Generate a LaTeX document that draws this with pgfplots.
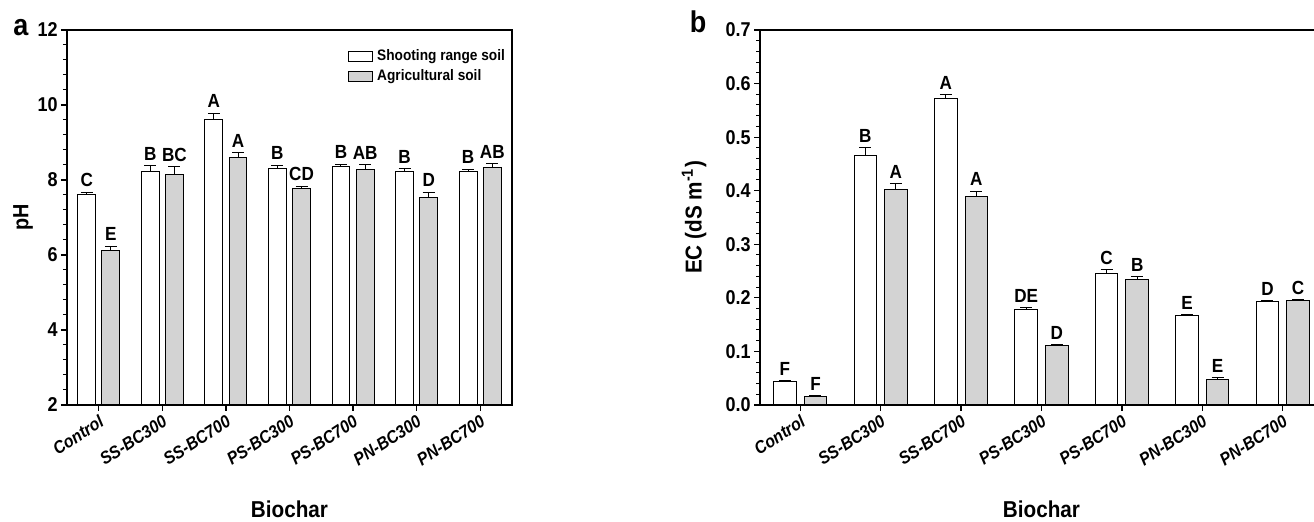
\documentclass[border=0pt]{standalone}
\usepackage{pgfplots}
\pgfplotsset{compat=1.18}
\usepackage{pgfplotstable}
\usepackage{fontspec}
\setmainfont{Liberation Sans}[FakeStretch=0.9]

\definecolor{barg}{RGB}{211,211,211}

\pgfplotstableread{
x w we wl g ge gl
0 7.62 0.05 C 6.11 0.12 E
1 8.23 0.15 B 8.14 0.21 BC
2 9.62 0.16 A 8.60 0.13 A
3 8.31 0.08 B 7.76 0.07 CD
4 8.35 0.07 B 8.28 0.12 AB
5 8.23 0.07 B 7.53 0.14 D
6 8.23 0.06 B 8.33 0.10 AB
}\pha

\pgfplotstableread{
x w we wl g ge gl
0 0.0434 0.002 F 0.0162 0.001 F
1 0.466 0.014 B 0.402 0.011 A
2 0.572 0.007 A 0.390 0.009 A
3 0.1775 0.004 DE 0.111 0.002 D
4 0.246 0.006 C 0.234 0.006 B
5 0.167 0.002 E 0.047 0.004 E
6 0.193 0.002 D 0.1955 0.001 C
}\phb

\pgfplotsset{
  mybase/.style={
    scale only axis, height=187.5pt,
    xmin=-0.5, xmax=6.5,
    xtick={0,1,2,3,4,5,6},
    xticklabels={Control,SS-BC300,SS-BC700,PS-BC300,PS-BC700,PN-BC300,PN-BC700},
    tick align=outside, tick pos=left,
    major tick length=3pt, minor tick length=2pt,
    axis line style={line width=0.6pt, black},
    every tick/.style={black, line width=0.6pt},
    every minor tick/.style={black, line width=0.5pt},
    xticklabel style={rotate=33, anchor=north east, inner sep=1pt,
      font=\fontsize{8.8}{9}\selectfont\bfseries\itshape},
    yticklabel style={font=\fontsize{10}{11}\selectfont\bfseries, inner sep=1.5pt},
    /pgf/number format/assume math mode=true,
    minor y tick num=4,
  },
  wbar/.style={ybar, bar width=0.28, bar shift=0pt, fill=white, draw=black, line width=0.5pt,
    legend image code/.code={\draw[fill=white, draw=black, line width=0.5pt] (0pt,-2.5pt) rectangle (12pt,2.5pt);},
    error bars/.cd, y dir=plus, y explicit,
    error bar style={line width=0.5pt, black},
    error mark options={rotate=90, mark size=3pt, line width=0.5pt, black}},
  gbar/.style={ybar, bar width=0.28, bar shift=0pt, fill=barg, draw=black, line width=0.5pt,
    legend image code/.code={\draw[fill=barg, draw=black, line width=0.5pt] (0pt,-2.5pt) rectangle (12pt,2.5pt);},
    error bars/.cd, y dir=plus, y explicit,
    error bar style={line width=0.5pt, black},
    error mark options={rotate=90, mark size=3pt, line width=0.5pt, black}},
  lbl/.style={only marks, mark=none, forget plot,
    nodes near coords, point meta=explicit symbolic,
    every node near coord/.style={font=\fontsize{9.5}{10}\selectfont\bfseries, black, inner sep=1.5pt, anchor=south, yshift=1pt}},
}

\begin{document}
\begin{tikzpicture}
\begin{axis}[mybase, name=pa, at={(0,0)}, anchor=south west,
  width=222.5pt, ymin=2, ymax=12, ytick={2,4,6,8,10,12},
  legend style={at={(rel axis cs:0.631,0.96)}, anchor=north west, draw=none, fill=none,
    font=\fontsize{7.6}{8}\selectfont\bfseries, inner sep=0pt, row sep=-0.8pt,
    legend cell align=left},
]
\addplot[wbar] table[x expr=\thisrow{x}-0.19, y=w, y error=we] {\pha};
\addlegendentry{Shooting range soil}
\addplot[gbar] table[x expr=\thisrow{x}+0.19, y=g, y error=ge] {\pha};
\addlegendentry{Agricultural soil}
\addplot[lbl] table[x expr=\thisrow{x}-0.19, y expr=\thisrow{w}+\thisrow{we}, meta=wl] {\pha};
\addplot[lbl] table[x expr=\thisrow{x}+0.19, y expr=\thisrow{g}+\thisrow{ge}, meta=gl] {\pha};
\end{axis}
\node[rotate=90, font=\fontsize{11}{12}\selectfont\bfseries] at ([xshift=-22pt]pa.west) {pH};
\node[font=\fontsize{11.5}{12}\selectfont\bfseries, anchor=base] at ([yshift=-56.5pt]pa.south) {Biochar};
\node[font=\fontsize{15}{15}\selectfont\bfseries, anchor=base] at ([xshift=-23pt, yshift=-3pt]pa.north west) {a};

\begin{axis}[mybase, name=pb, at={(346.5pt,0)}, anchor=south west,
  width=281.5pt, ymin=0, ymax=0.7, ytick={0,0.1,0.2,0.3,0.4,0.5,0.6,0.7},
  yticklabel style={/pgf/number format/.cd, fixed, fixed zerofill, precision=1},
]
\addplot[wbar] table[x expr=\thisrow{x}-0.19, y=w, y error=we] {\phb};
\addplot[gbar] table[x expr=\thisrow{x}+0.19, y=g, y error=ge] {\phb};
\addplot[lbl] table[x expr=\thisrow{x}-0.19, y expr=\thisrow{w}+\thisrow{we}, meta=wl] {\phb};
\addplot[lbl] table[x expr=\thisrow{x}+0.19, y expr=\thisrow{g}+\thisrow{ge}, meta=gl] {\phb};
\end{axis}
\node[rotate=90, font=\fontsize{11.5}{12}\selectfont\bfseries] at ([xshift=-33pt]pb.west) {EC (dS m\textsuperscript{-1})};
\node[font=\fontsize{11.5}{12}\selectfont\bfseries, anchor=base] at ([yshift=-56.5pt]pb.south) {Biochar};
\node[font=\fontsize{15}{15}\selectfont\bfseries, anchor=base] at ([xshift=-31pt, yshift=-1.5pt]pb.north west) {b};

\pgfresetboundingbox
\useasboundingbox (-33.5pt,-58.5pt) rectangle (623.5pt,202.5pt);
\end{tikzpicture}
\end{document}
